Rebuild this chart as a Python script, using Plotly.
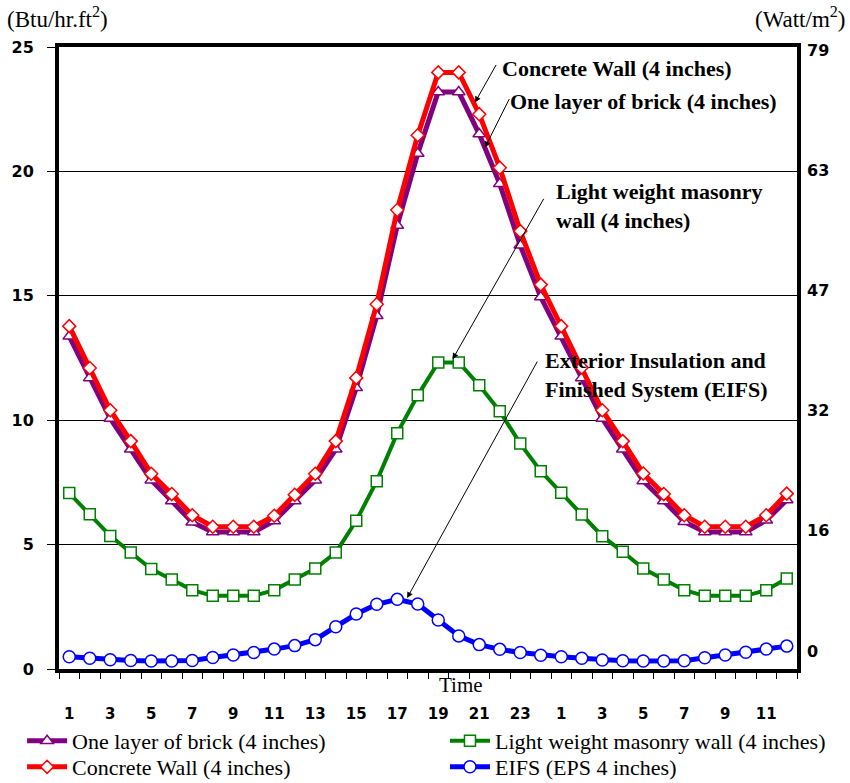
import plotly.graph_objects as go

hours = [str(h) for h in range(1, 25)] + [str(h) for h in range(1, 13)]

brick = [13.37, 11.70, 10.07, 8.83, 7.59, 6.75, 5.90, 5.51, 5.51, 5.51, 5.95, 6.75,
         7.59, 8.83, 11.30, 14.20, 17.83, 20.72, 23.19, 23.19, 21.50, 19.50, 17.03, 14.95,
         13.37, 11.70, 10.07, 8.83, 7.56, 6.75, 5.92, 5.51, 5.51, 5.51, 5.98, 6.79]
concrete = [13.78, 12.10, 10.40, 9.16, 7.85, 7.03, 6.18, 5.72, 5.72, 5.72, 6.16, 7.00,
            7.85, 9.16, 11.70, 14.66, 18.45, 21.45, 23.98, 23.98, 22.30, 20.15, 17.60, 15.45,
            13.78, 12.12, 10.40, 9.16, 7.86, 7.03, 6.18, 5.72, 5.72, 5.72, 6.18, 7.05]
masonry = [7.07, 6.22, 5.35, 4.68, 4.02, 3.60, 3.17, 2.94, 2.94, 2.94, 3.17, 3.60,
           4.04, 4.68, 5.96, 7.55, 9.48, 11.00, 12.32, 12.32, 11.40, 10.36, 9.06, 7.95,
           7.08, 6.21, 5.34, 4.71, 4.04, 3.60, 3.17, 2.94, 2.94, 2.94, 3.17, 3.64]
eifs = [0.49, 0.43, 0.37, 0.34, 0.32, 0.32, 0.34, 0.46, 0.56, 0.66, 0.80, 0.94,
        1.18, 1.70, 2.21, 2.60, 2.80, 2.61, 1.97, 1.33, 0.98, 0.79, 0.66, 0.55,
        0.49, 0.43, 0.36, 0.33, 0.32, 0.32, 0.33, 0.45, 0.56, 0.67, 0.80, 0.92]

left_ticks = [0, 5, 10, 15, 20, 25]
right_tick_labels = ["0", "16", "32", "47", "63", "79"]

x = list(range(1, len(hours) + 1))
odd_idx = [i for i in x if i % 2 == 1]

SERIF = "Liberation Serif"
SANS = "DejaVu Sans"

fig = go.Figure()

# name, values, colour, symbol, marker size, line width, legend id, legend position
series = [
    ("One layer of brick (4 inches)", brick, "#800080", "triangle-up", 11, 5, "legend", (-0.05, -0.1158)),
    ("Concrete Wall (4 inches)", concrete, "#FF0000", "diamond", 10, 5, "legend3", (-0.05, -0.1576)),
    ("Light weight masonry wall (4 inches)", masonry, "#008000", "square", 11, 4, "legend2", (0.523, -0.1158)),
    ("EIFS (EPS 4 inches)", eifs, "#0000FF", "circle", 12, 5, "legend4", (0.523, -0.1576)),
]
legend_layouts = {}
for name, vals, col, sym, msize, lw, lg, pos in series:
    fig.add_trace(go.Scatter(
        x=x, y=vals, name=name, mode="lines+markers",
        line=dict(color=col, width=lw),
        marker=dict(symbol=sym, size=msize, color="white", line=dict(color=col, width=1.5)),
        legend=lg,
    ))
    legend_layouts[lg] = dict(
        x=pos[0], y=pos[1], xanchor="left", yanchor="middle",
        font=dict(family=SERIF, size=22, color="black"),
        itemwidth=40, bgcolor="rgba(0,0,0,0)", borderwidth=0,
    )

# invisible trace for right axis
fig.add_trace(go.Scatter(x=[x[0]], y=[0], yaxis="y2", mode="markers",
                         marker=dict(opacity=0), showlegend=False, hoverinfo="skip"))

fig.update_layout(
    width=850, height=783,
    margin=dict(l=59, r=53, t=47, b=114, autoexpand=False),
    plot_bgcolor="white", paper_bgcolor="white",
    showlegend=True,
    **legend_layouts,
    xaxis=dict(
        range=[0.5, len(hours) + 0.5],
        tickmode="array", tickvals=odd_idx, ticktext=[hours[i - 1] for i in odd_idx],
        ticks="", showgrid=False, zeroline=False,
        showline=True, linewidth=4, linecolor="black", mirror=True,
        tickfont=dict(family=SANS, size=15, color="black", weight="bold"),
        ticklabelstandoff=28,
        minor=dict(ticks="outside", tick0=0.5, dtick=1, ticklen=6, tickcolor="black", tickwidth=1, showgrid=False),
    ),
    yaxis=dict(
        range=[0, 25], tickmode="array", tickvals=left_ticks,
        ticks="outside", ticklen=8, tickcolor="black", tickwidth=1,
        showgrid=True, gridcolor="black", gridwidth=1, zeroline=False,
        showline=True, linewidth=4, linecolor="black", mirror=True,
        tickfont=dict(family=SANS, size=16, color="black", weight="bold"),
        ticklabelstandoff=10,
    ),
    yaxis2=dict(
        overlaying="y", side="right", range=[-0.1497, 5.025],
        tickmode="array", tickvals=list(range(len(right_tick_labels))), ticktext=right_tick_labels,
        ticks="", showgrid=False, zeroline=False, showline=False,
        tickfont=dict(family=SANS, size=16, color="black", weight="bold"),
        ticklabelstandoff=9,
    ),
)

ann_font = dict(family=SERIF, size=22, color="black", weight="bold")
texts = [
    ("Concrete Wall (4 inches)", 0.5976, 0.966),
    ("One layer of brick (4 inches)", 0.6084, 0.9116),
    ("Light weight masonry<br>wall (4 inches)", 0.6707, 0.7444),
    ("Exterior Insulation and<br>Finished System (EIFS)", 0.6558, 0.4727),
]
for t, px, py in texts:
    fig.add_annotation(text=t, xref="paper", yref="paper", x=px, y=py,
                       xanchor="left", yanchor="middle", align="left",
                       showarrow=False, font=ann_font)

arrows = [
    (20.79, 22.77, 22, -39),
    (21.28, 20.96, 25, -50),
    (19.70, 12.45, 92, -162),
    (17.48, 2.85, 131, -238),
]
for hx, hy, ax, ay in arrows:
    fig.add_annotation(text="", x=hx, y=hy, xref="x", yref="y", ax=ax, ay=ay,
                       showarrow=True, arrowhead=2, arrowsize=1.2, arrowwidth=1,
                       arrowcolor="black", standoff=0, startstandoff=0)

fig.add_annotation(text="(Btu/hr.ft<sup>2</sup>)", xref="paper", yref="paper",
                   x=-0.0732, y=1.048, xanchor="left", yanchor="middle", showarrow=False,
                   font=dict(family=SERIF, size=23, color="black"))
fig.add_annotation(text="(Watt/m<sup>2</sup>)", xref="paper", yref="paper",
                   x=1.069, y=1.048, xanchor="right", yanchor="middle", showarrow=False,
                   font=dict(family=SERIF, size=23, color="black"))
fig.add_annotation(text="Time", xref="paper", yref="paper",
                   x=0.5447, y=-0.0257, xanchor="center", yanchor="middle", showarrow=False,
                   font=dict(family=SERIF, size=21, color="black"))

fig.write_html("out.html")
